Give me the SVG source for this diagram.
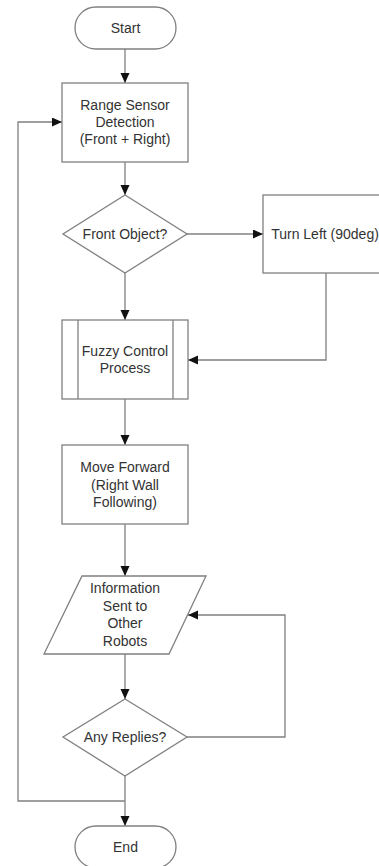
<svg xmlns="http://www.w3.org/2000/svg" width="379" height="866" viewBox="0 0 379 866">
<style>
.shape{fill:#fff;stroke:#808080;stroke-width:1.3}
.conn{fill:none;stroke:#808080;stroke-width:1.3}
text{font-family:"Liberation Sans",Arial,sans-serif;font-size:14px;fill:#333;text-anchor:middle}
</style>
<defs>
<marker id="arr" markerUnits="userSpaceOnUse" markerWidth="10" markerHeight="10" refX="10" refY="4.5" orient="auto">
<path d="M0,0 L10,4.5 L0,9 Z" fill="#111"/>
</marker>
</defs>
<rect width="379" height="866" fill="#fff"/>
<g id="connectors">
<line class="conn" x1="125" y1="49" x2="125" y2="83" marker-end="url(#arr)"/>
<line class="conn" x1="125" y1="162" x2="125" y2="195" marker-end="url(#arr)"/>
<line class="conn" x1="187" y1="234" x2="263" y2="234" marker-end="url(#arr)"/>
<line class="conn" x1="125" y1="273" x2="125" y2="320" marker-end="url(#arr)"/>
<polyline class="conn" points="326,273 326,360 188,360" marker-end="url(#arr)"/>
<line class="conn" x1="125" y1="399" x2="125" y2="445" marker-end="url(#arr)"/>
<line class="conn" x1="125" y1="524" x2="125" y2="576" marker-end="url(#arr)"/>
<line class="conn" x1="125" y1="654" x2="125" y2="699" marker-end="url(#arr)"/>
<polyline class="conn" points="187,737 285,737 285,615 188,615" marker-end="url(#arr)"/>
<line class="conn" x1="125" y1="776" x2="125" y2="826" marker-end="url(#arr)"/>
<polyline class="conn" points="125,801 18,801 18,122 62,122" marker-end="url(#arr)"/>
</g>
<g id="start">
<rect class="shape" x="75" y="7" width="101" height="42" rx="21" ry="21"/>
<text x="125.5" y="33">Start</text>
</g>
<g id="range">
<rect class="shape" x="62" y="83" width="126" height="79"/>
<text x="125" y="110">Range Sensor</text>
<text x="125" y="127">Detection</text>
<text x="125" y="144">(Front + Right)</text>
</g>
<g id="front">
<polygon class="shape" points="125,195 187,234 125,273 63,234"/>
<text x="125" y="239">Front Object?</text>
</g>
<g id="turn">
<rect class="shape" x="263" y="195" width="124" height="78"/>
<text x="325" y="239">Turn Left (90deg)</text>
</g>
<g id="fuzzy">
<rect class="shape" x="62" y="320" width="126" height="79"/>
<line class="shape" x1="78" y1="320" x2="78" y2="399"/>
<line class="shape" x1="173" y1="320" x2="173" y2="399"/>
<text x="125" y="356">Fuzzy Control</text>
<text x="125" y="373">Process</text>
</g>
<g id="move">
<rect class="shape" x="62" y="445" width="126" height="79"/>
<text x="125" y="472">Move Forward</text>
<text x="125" y="489.5">(Right Wall</text>
<text x="125" y="507">Following)</text>
</g>
<g id="info">
<polygon class="shape" points="82,576 206,576 169,654 44,654"/>
<text x="125" y="593">Information</text>
<text x="125" y="611">Sent to</text>
<text x="125" y="628">Other</text>
<text x="125" y="646">Robots</text>
</g>
<g id="replies">
<polygon class="shape" points="125,699 187,737 125,776 63,737"/>
<text x="125" y="742">Any Replies?</text>
</g>
<g id="end">
<rect class="shape" x="75" y="826" width="101" height="42" rx="21" ry="21"/>
<text x="125.5" y="852">End</text>
</g>
</svg>
